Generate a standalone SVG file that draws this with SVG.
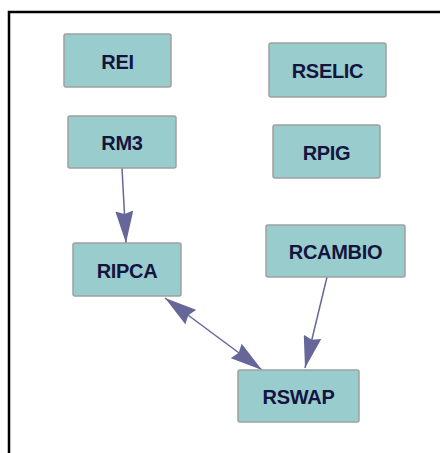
<svg xmlns="http://www.w3.org/2000/svg" width="440" height="453" viewBox="0 0 440 453">
<style>
.node rect{fill:#99cccc;stroke:#a0a0a0;stroke-width:1.5}
.node text{font-family:"Liberation Sans",Arial,sans-serif;font-weight:bold;font-size:20px;fill:#141440;text-anchor:middle;letter-spacing:-0.3px}
.edge{stroke:#66669a;stroke-width:1.5;fill:none}
</style>
<defs>
<marker id="ah" markerUnits="userSpaceOnUse" markerWidth="32" markerHeight="18" viewBox="0 0 32 18" refX="32" refY="9" orient="auto-start-reverse">
<path d="M0,0 L32,9 L0,18 L3,9 z" fill="#666699"/>
</marker>
</defs>
<rect width="440" height="453" fill="#ffffff"/>
<path d="M9,453 V12 H440" stroke="#000" stroke-width="2.5" fill="none"/>
<g id="connectors">
<path class="edge" d="M122,168 L126,243" marker-end="url(#ah)"/>
<path class="edge" d="M165,298 L262,370" marker-start="url(#ah)" marker-end="url(#ah)"/>
<path class="edge" d="M327,277 L305,368" marker-end="url(#ah)"/>
</g>
<g id="REI" class="node"><rect x="64" y="34" width="107" height="53" rx="2"/><text x="117.5" y="69">REI</text></g>
<g id="RM3" class="node"><rect x="68" y="116" width="108" height="52" rx="2"/><text x="122" y="150">RM3</text></g>
<g id="RSELIC" class="node"><rect x="269" y="43" width="117" height="54" rx="2"/><text x="327.5" y="78">RSELIC</text></g>
<g id="RPIG" class="node"><rect x="273" y="125" width="107" height="53" rx="2"/><text x="326.5" y="160">RPIG</text></g>
<g id="RIPCA" class="node"><rect x="73" y="243" width="108" height="53" rx="2"/><text x="127" y="278">RIPCA</text></g>
<g id="RCAMBIO" class="node"><rect x="266" y="225" width="139" height="52" rx="2"/><text x="335.5" y="259">RCAMBIO</text></g>
<g id="RSWAP" class="node"><rect x="238" y="370" width="121" height="52" rx="2"/><text x="298.5" y="404">RSWAP</text></g>
</svg>
